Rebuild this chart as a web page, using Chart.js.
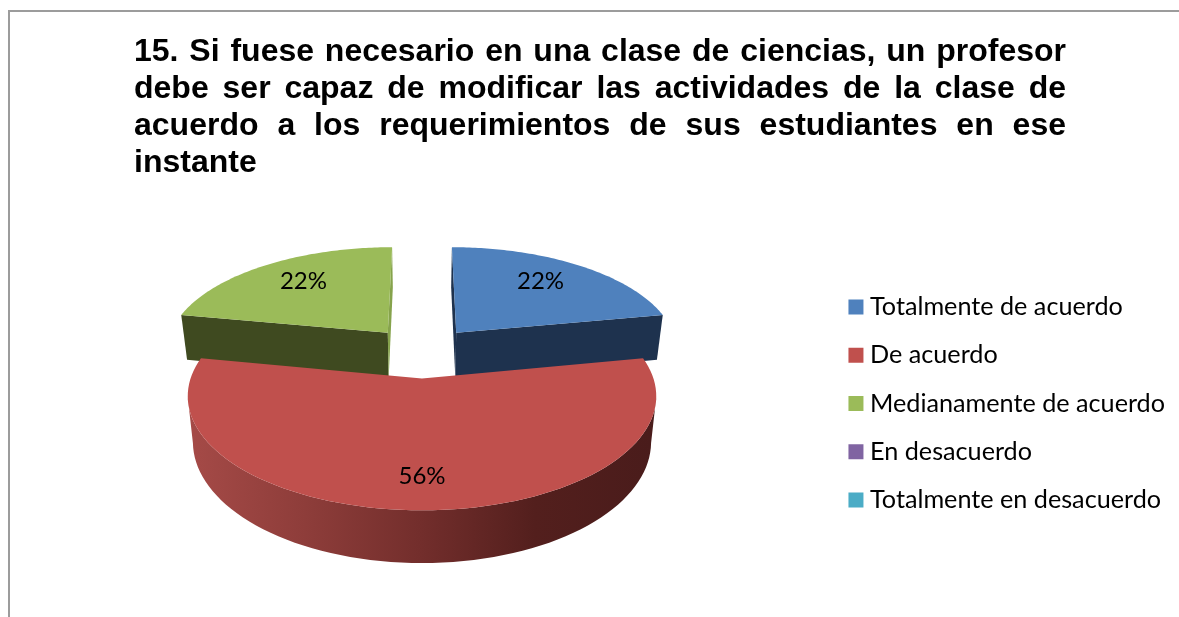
<!DOCTYPE html>
<html>
<head>
<meta charset="utf-8">
<style>
  html, body { margin: 0; padding: 0; background: #fff; overflow: hidden; }
  #frame { position: absolute; left: 8px; top: 10px; width: 1300px; height: 800px; border: 2px solid #9c9c9c; }
  #chart { position: absolute; left: 0; top: 0; }
</style>
<script src="https://cdn.jsdelivr.net/npm/chart.js@4/dist/chart.umd.min.js"></script>
</head>
<body>
<canvas id="chart" width="1179" height="617"></canvas>
<div id="frame"></div>
<script>
var categories = ['Totalmente de acuerdo', 'De acuerdo', 'Medianamente de acuerdo', 'En desacuerdo', 'Totalmente en desacuerdo'];
var percentages = [22, 56, 22, 0, 0];
var titleLines = [
  '15. Si fuese necesario en una clase de ciencias, un profesor',
  'debe ser capaz de modificar las actividades de la clase de',
  'acuerdo a los requerimientos de sus estudiantes en ese',
  'instante'
];

var topColors = ['#4f81bd', '#c0504d', '#9bbb59', '#8064a2', '#4bacc6'];
var wallColors = ['#1e324e', '#c0504d', '#3f4a20'];
var edgeColors = ['#1e324e', '#c0504d', '#86a34c'];
var labelReach = [0.735, 0.775, 0.735];
var labelNudge = [-7, 0, 7];
var drawOrder = [0, 2, 1];

// Tilted view of the pie plane, fitted by eye to the reference
var view = { cx: 422, cy: 352, rx: 223, ry: 103.5, k: 0.148, depth: 43, taper: 0.022 };

function project(u, v, z) {
  var s = 1 / (1 - view.k * v);
  return {
    x: view.cx + view.rx * u * s * (1 - view.taper * z),
    y: view.cy + view.ry * v * s + view.depth * z * s
  };
}

function arcPoints(slice, z) {
  var pts = [];
  var steps = 90;
  for (var i = 0; i <= steps; i++) {
    var a = slice.start + (slice.end - slice.start) * i / steps;
    pts.push(project(slice.ax + Math.cos(a), slice.ay + Math.sin(a), z));
  }
  return pts;
}

function fillPoly(ctx, pts, fill) {
  ctx.beginPath();
  pts.forEach(function(p, i) {
    if (i === 0) ctx.moveTo(p.x, p.y); else ctx.lineTo(p.x, p.y);
  });
  ctx.closePath();
  ctx.fillStyle = fill;
  ctx.fill();
}

// Runs a little deeper than the red rim so no white shows along the join
function radialWall(ctx, slice, angle, fill) {
  var ux = slice.ax + Math.cos(angle);
  var vy = slice.ay + Math.sin(angle);
  fillPoly(ctx, [
    project(slice.ax, slice.ay, 0),
    project(ux, vy, 0),
    project(ux, vy, 1.1),
    project(slice.ax, slice.ay, 1.1)
  ], fill);
}

// Only the front of the rim, between its left and right extremes on screen
function outerWall(ctx, slice, fill) {
  var top = arcPoints(slice, 0);
  var bottom = arcPoints(slice, 1);
  var first = 0, last = 0;
  top.forEach(function(p, i) {
    if (p.x > top[first].x) first = i;
    if (p.x < top[last].x) last = i;
  });
  var front = top.slice(first, last + 1);
  var under = bottom.slice(first, last + 1).reverse();
  fillPoly(ctx, front.concat(under), fill);
}

var pie3d = {
  id: 'pie3d',
  beforeDatasetsDraw: function(chart) {
    var ctx = chart.ctx;
    var arcs = chart.getDatasetMeta(0).data;
    drawOrder.forEach(function(i) {
      var arc = arcs[i];
      var mid = (arc.startAngle + arc.endAngle) / 2;
      var d = arc.options.offset / arc.outerRadius;
      var slice = { start: arc.startAngle, end: arc.endAngle, ax: d * Math.cos(mid), ay: d * Math.sin(mid) };

      if (i === 1) {
        var grad = ctx.createLinearGradient(190, 0, 650, 0);
        grad.addColorStop(0, '#a54a47');
        grad.addColorStop(0.25, '#8e3d3a');
        grad.addColorStop(0.5, '#732e2c');
        grad.addColorStop(0.75, '#531f1d');
        grad.addColorStop(1, '#4a1c1b');
        outerWall(ctx, slice, grad);
      } else {
        radialWall(ctx, slice, arc.startAngle, i === 0 ? edgeColors[i] : wallColors[i]);
        radialWall(ctx, slice, arc.endAngle, i === 0 ? wallColors[i] : edgeColors[i]);
      }
      fillPoly(ctx, [project(slice.ax, slice.ay, 0)].concat(arcPoints(slice, 0)), topColors[i]);
    });

    ctx.save();
    ctx.font = '24px Lato';
    ctx.fillStyle = '#000';
    ctx.textAlign = 'center';
    ctx.textBaseline = 'middle';
    drawOrder.forEach(function(i) {
      var arc = arcs[i];
      var mid = (arc.startAngle + arc.endAngle) / 2;
      var d = arc.options.offset / arc.outerRadius + labelReach[i];
      var p = project(d * Math.cos(mid), d * Math.sin(mid), 0);
      ctx.fillText(percentages[i] + '%', p.x + labelNudge[i], p.y);
    });
    ctx.restore();
    return false;
  },
  afterDraw: function(chart) {
    var ctx = chart.ctx;
    var left = 134, right = 1066;
    ctx.save();
    ctx.font = 'bold 32px "Liberation Sans"';
    ctx.fillStyle = '#000';
    ctx.textBaseline = 'alphabetic';
    titleLines.forEach(function(line, i) {
      var gaps = line.split(' ').length - 1;
      ctx.wordSpacing = '0px';
      var extra = i < titleLines.length - 1 ? (right - left - ctx.measureText(line).width) / gaps : 0;
      ctx.wordSpacing = extra + 'px';
      ctx.fillText(line, left, 61 + i * 37);
    });
    ctx.restore();
  }
};

new Chart(document.getElementById('chart').getContext('2d'), {
  type: 'pie',
  data: {
    labels: categories,
    datasets: [{
      data: percentages,
      backgroundColor: topColors,
      borderWidth: 0,
      offset: 47
    }]
  },
  options: {
    responsive: false,
    animation: false,
    layout: { padding: { top: 190, right: 4 } },
    plugins: {
      tooltip: { enabled: false },
      legend: {
        position: 'right',
        labels: {
          // small box plus a thick same-colour outline keeps the label close to the swatch
          boxWidth: 3,
          boxHeight: 3,
          padding: 23,
          color: '#000',
          font: { family: 'Lato', size: 25.2 },
          generateLabels: function(chart) {
            return Chart.overrides.pie.plugins.legend.labels.generateLabels(chart).map(function(item) {
              item.lineWidth = 12;
              item.strokeStyle = item.fillStyle;
              return item;
            });
          }
        }
      }
    }
  },
  plugins: [pie3d]
});
</script>
</body>
</html>
